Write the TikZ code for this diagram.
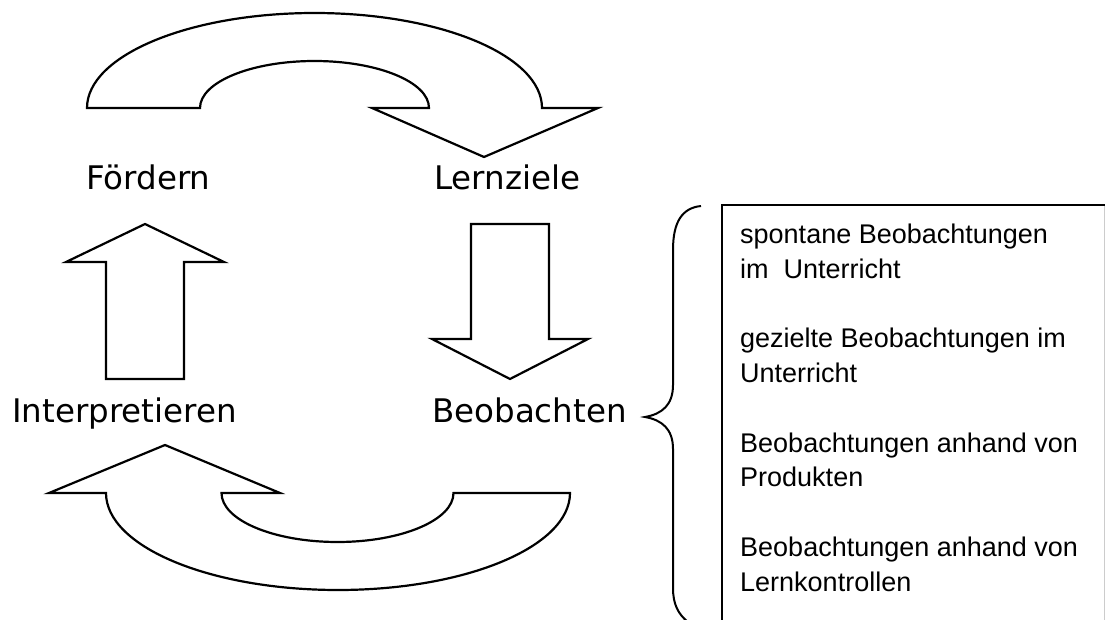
\documentclass[tikz,border=0pt]{standalone}
\usepackage{fontspec}
\setmainfont{DejaVu Sans}
\newfontfamily\boxfont{Liberation Sans}
\begin{document}
\begin{tikzpicture}[x=1pt,y=-1pt,
  shapeline/.style={draw=black,line width=2.2pt,line join=miter,fill=white},
  lbl/.style={anchor=base west,inner sep=0pt,font=\fontsize{32.5}{38}\selectfont},
  boxtxt/.style={anchor=base west,inner sep=0pt,font=\boxfont\fontsize{27}{32}\selectfont}]
\useasboundingbox (0,0) rectangle (1105,620);
\fill[white] (0,0) rectangle (1105,620);

% top curved arrow
\draw[shapeline] (87,108) arc[start angle=180,end angle=360,x radius=227.5,y radius=95]
  -- (598,108) -- (484,157) -- (372,108) -- (429,108)
  arc[start angle=360,end angle=180,x radius=114.5,y radius=47] -- cycle;

% bottom curved arrow
\draw[shapeline] (106,493) arc[start angle=180,end angle=0,x radius=232,y radius=97]
  -- (453.5,493) arc[start angle=0,end angle=180,x radius=116,y radius=49]
  -- (280,493) -- (165,445) -- (49,493) -- cycle;

% up arrow
\draw[shapeline] (106,379) -- (106,262) -- (66,262) -- (145,224) -- (224,262)
  -- (184,262) -- (184,379) -- cycle;

% down arrow
\draw[shapeline] (471,224) -- (549,224) -- (549,339) -- (588,339) -- (510,379)
  -- (432,339) -- (471,339) -- cycle;

% labels
\node[lbl] (foerdern) at (86,190) {Fördern};
\node[lbl] (lernziele) at (434,190) {Lernziele};
\node[lbl] (interp) at (12,422) {Interpretieren};
\node[lbl] (beob) at (432,422) {Beobachten};

% brace
\draw[line width=2pt] (701,206) .. controls (682,208) and (673,222) .. (673,250)
  -- (673,385) .. controls (673,405) and (662,414) .. (645,417)
  .. controls (662,420) and (673,429) .. (673,449)
  -- (673,588) .. controls (673,604) and (678,614) .. (688,622);

% box
\draw[line width=2.2pt] (722,622) -- (722,205) -- (1106,205);
\draw[line width=0.8pt,gray!40] (1104,206) -- (1104,622);

\node[boxtxt] (t1) at (740,244) {spontane Beobachtungen};
\node[boxtxt] (t2) at (740,279) {im\ \ Unterricht};
\node[boxtxt] (t3) at (740,347) {gezielte Beobachtungen im};
\node[boxtxt] (t4) at (740,382) {Unterricht};
\node[boxtxt] (t5) at (740,452) {Beobachtungen anhand von};
\node[boxtxt] (t6) at (740,486) {Produkten};
\node[boxtxt] (t7) at (740,556) {Beobachtungen anhand von};
\node[boxtxt] (t8) at (740,591) {Lernkontrollen};
\end{tikzpicture}
\end{document}
